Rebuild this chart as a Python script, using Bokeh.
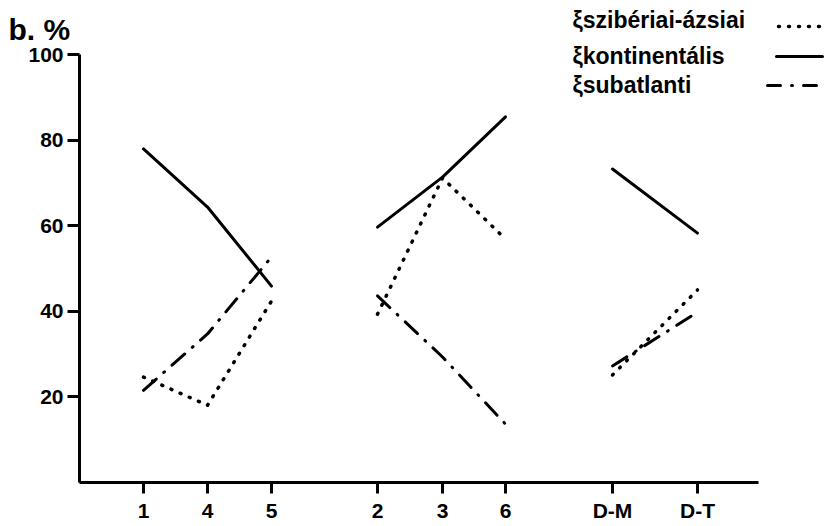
from bokeh.plotting import figure
from bokeh.models import Range1d, FixedTicker, Label, Arrow
from bokeh.core.properties import value
from bokeh.embed import file_html
from bokeh.resources import INLINE

# ---- data ----
categories = ["1", "4", "5", "2", "3", "6", "D-M", "D-T"]
cat_x = [143, 207, 271, 377, 442, 505, 612, 697]   # horizontal position of each category
groups = [[0, 1, 2], [3, 4, 5], [6, 7]]
kontinentalis = [78.0, 64.4, 45.9, 59.7, 71.4, 85.5, 73.3, 58.3]
sziberiai_azsiai = [24.6, 18.0, 42.4, 39.3, 71.2, 56.9, 25.1, 45.0]
subatlanti = [21.5, 34.7, 52.7, 43.6, 29.3, 13.6, 27.2, 39.8]
y_ticks = [20, 40, 60, 80, 100]
series_names = ["ξszibériai-ázsiai", "ξkontinentális", "ξsubatlanti"]

FONT = "Liberation Sans"
W, H = 830, 526
Y0, PX = 481.7, 4.273          # pixel row of value 0, pixels per percent

def yv(img_y):
    return (Y0 - img_y) / PX

p = figure(width=W, height=H, output_backend="svg", toolbar_location=None, title=None,
           x_range=Range1d(0, W), y_range=Range1d(yv(H), yv(0)), min_border=0)
p.grid.visible = False
p.outline_line_color = None
p.background_fill_color = "white"
p.border_fill_color = "white"

def style_axis(ax, tick_out):
    ax.axis_line_width = 3
    ax.axis_line_color = "black"
    ax.major_tick_line_width = 3
    ax.major_tick_line_color = "black"
    ax.major_tick_in = 0
    ax.major_tick_out = tick_out
    ax.minor_tick_line_color = None
    ax.major_label_text_font = FONT
    ax.major_label_text_font_style = "bold"
    ax.major_label_text_font_size = "21px"
    ax.major_label_text_color = "black"

xa = p.xaxis[0]
style_axis(xa, 11)
xa.ticker = FixedTicker(ticks=cat_x)
xa.major_label_overrides = {x: c for x, c in zip(cat_x, categories)}
xa.major_label_standoff = 6
xa.fixed_location = 0
xa.bounds = (79, 758)

ya = p.yaxis[0]
style_axis(ya, 12)
ya.ticker = FixedTicker(ticks=y_ticks)
ya.major_label_standoff = 4
ya.fixed_location = 79
ya.bounds = (0, 100)

def seg(vals):
    xs = [[cat_x[i] for i in g] for g in groups]
    ys = [[vals[i] for i in g] for g in groups]
    return xs, ys

xs, ys = seg(kontinentalis)
p.multi_line(xs, ys, line_color="black", line_width=3, line_cap="round", line_join="round")
xs, ys = seg(sziberiai_azsiai)
p.multi_line(xs, ys, line_color="black", line_width=3.5, line_dash=value("1 9"),
             line_cap="round", line_join="round")
xs, ys = seg(subatlanti)
p.multi_line(xs, ys, line_color="black", line_width=3, line_dash=value("17 10 1 10"),
             line_cap="round", line_join="round")

p.add_layout(Label(x=8, y=yv(29), text="b. %", text_font=FONT, text_font_style="bold",
                   text_color="black", text_font_size="30px", text_baseline="alphabetic",
                   text_align="left"))

rows = [19, 55, 84]
line_rows = [26, 56, 85]
dashes = ["1 9", "solid", "13 11 1 11"]
starts = [778, 776, 767]
widths = [3.5, 3, 3]
for name, ry, ly, dsh, sx, lw in zip(series_names, rows, line_rows, dashes, starts, widths):
    p.add_layout(Label(x=572, y=yv(ry), text=name, text_font=FONT, text_font_style="bold",
                       text_color="black", text_font_size="23px", text_baseline="alphabetic",
                       text_align="left"))
    p.add_layout(Arrow(x_start=sx, y_start=yv(ly), x_end=822, y_end=yv(ly), start=None, end=None,
                       line_color="black", line_width=lw, line_dash=dsh, line_cap="round"))

open("out.html", "w").write(file_html(p, INLINE))
